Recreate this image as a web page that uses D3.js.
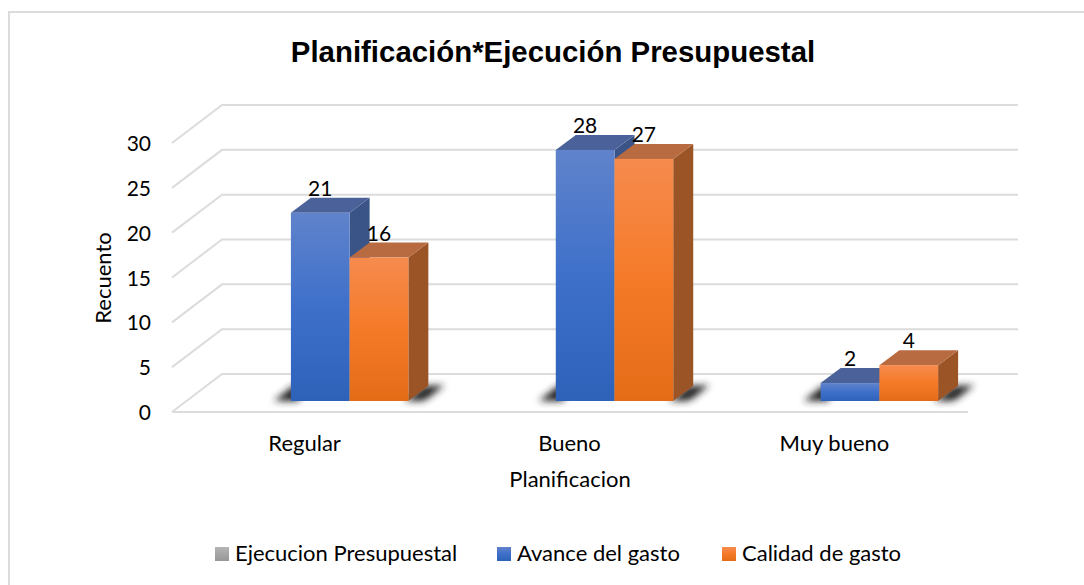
<!DOCTYPE html>
<html>
<head>
<meta charset="UTF-8">
<style>
html, body { margin:0; padding:0; background:#fff; }
svg { display:block; }
text { font-family:"Lato", sans-serif; fill:#000; }
.grid { stroke:#dcdcdc; stroke-width:2; fill:none; }
.tick-label { font-size:21px; }
.cat-label { font-size:22px; }
.axis-title { font-size:22px; }
.title { font-family:"Liberation Sans", sans-serif; font-size:29.4px; font-weight:bold; }
.legend-label { font-size:22px; }
</style>
</head>
<body>
<svg width="1084" height="585"></svg>
<script src="https://d3js.org/d3.v7.min.js"></script>
<script>
var categories = ["Regular", "Bueno", "Muy bueno"];
var seriesNames = ["Avance del gasto", "Calidad de gasto"];
var avance = [21, 28, 2];
var calidad = [16, 27, 4];
var yTicks = [0, 5, 10, 15, 20, 25, 30];

var svg = d3.select("svg");
var defs = svg.append("defs");

// the floor is a parallelogram, back edge is this far from the front edge
var floorDx = 50, floorDy = -38;
var barDx = 20, barDy = -15;
var frontY = 412;

var y = d3.scaleLinear().domain([0, 30]).range([frontY, frontY - 269]);
var x0 = d3.scaleBand().domain(categories).range([217, 1012]).paddingInner(0.5566).paddingOuter(0.279);
var x1 = d3.scaleBand().domain(seriesNames).range([0, x0.bandwidth()]);

function gradient(id, stops) {
  var g = defs.append("linearGradient").attr("id", id)
    .attr("x1", 0).attr("y1", 0).attr("x2", 0).attr("y2", 1);
  stops.forEach(function(s) {
    g.append("stop").attr("offset", s[0]).attr("stop-color", s[1]);
  });
}
gradient("blueGrad", [[0, "#6083cb"], [0.5, "#3e70ca"], [1, "#2e62b9"]]);
gradient("orangeGrad", [[0, "#f68b4e"], [0.5, "#f57a28"], [1, "#e46c17"]]);
gradient("greyGrad", [[0, "#b5b5b5"], [0.5, "#a5a5a5"], [1, "#979797"]]);
defs.append("filter").attr("id", "blur")
  .attr("x", "-30%").attr("y", "-60%").attr("width", "160%").attr("height", "220%")
  .append("feGaussianBlur").attr("stdDeviation", 3.5);

// chart frame: only left and top edges fall inside the crop
svg.append("path").attr("fill", "none").attr("stroke", "#dcdcdc").attr("stroke-width", 2)
  .attr("d", "M9,585V12H1084");

svg.append("text").attr("class", "title")
  .attr("x", 553).attr("y", 62).attr("text-anchor", "middle")
  .text("Planificación*Ejecución Presupuestal");

// gridlines, back wall and side wall
var grid = svg.append("g");
yTicks.forEach(function(t) {
  var py = y(t);
  grid.append("path").attr("class", "grid")
    .attr("d", d3.line()([[172, py], [172 + floorDx, py + floorDy], [1018, py + floorDy]]));
});
grid.append("line").attr("class", "grid")
  .attr("x1", 172).attr("y1", y(0)).attr("x2", 968).attr("y2", y(0));

svg.append("g").selectAll("text").data(yTicks).enter().append("text")
  .attr("class", "tick-label")
  .attr("x", 151).attr("y", function(d) { return y(d) + 8; })
  .attr("text-anchor", "end")
  .text(function(d) { return d; });

svg.append("g").selectAll("text").data(categories).enter().append("text")
  .attr("class", "cat-label")
  .attr("x", function(d) { return x0(d) + x0.bandwidth() / 2 - 45; }).attr("y", 451)
  .attr("text-anchor", "middle")
  .text(function(d) { return d; });

svg.append("text").attr("class", "axis-title")
  .attr("transform", "translate(111,278) rotate(-90)")
  .attr("text-anchor", "middle").text("Recuento");
svg.append("text").attr("class", "axis-title")
  .attr("x", 570).attr("y", 487).attr("text-anchor", "middle").text("Planificacion");

// bars
var bars = [];
categories.forEach(function(c, i) {
  bars.push({ cat: c, name: seriesNames[0], value: avance[i], fill: "url(#blueGrad)", top: "#4a6299", side: "#3a5488" });
  bars.push({ cat: c, name: seriesNames[1], value: calidad[i], fill: "url(#orangeGrad)", top: "#b86a40", side: "#9a5426" });
});

var base = y(0) - 11;

function poly(pts) { return d3.line()(pts) + "Z"; }

// shadows first so they sit under every bar
var shadow = svg.append("g").attr("filter", "url(#blur)");
categories.forEach(function(c) {
  var left = x0(c), right = left + x0.bandwidth();
  shadow.append("path").attr("fill", "#222")
    .attr("d", poly([[left - 17, base], [left + 2, base - 15], [left + 8, base - 15], [left + 8, base], [left, base]]));
  shadow.append("path").attr("fill", "#222")
    .attr("d", poly([[right - 4, base], [right + barDx - 4, base + barDy], [right + barDx + 16, base + barDy - 1], [right + barDx, base - 3], [right + 14, base]]));
});

var g = svg.append("g");
bars.forEach(function(b) {
  var bx = x0(b.cat) + x1(b.name), w = x1.bandwidth();
  var h = y(0) - y(b.value), ty = base - h;
  g.append("path").attr("fill", b.side)
    .attr("d", poly([[bx + w, ty], [bx + w + barDx, ty + barDy], [bx + w + barDx, base + barDy], [bx + w, base]]));
  g.append("path").attr("fill", b.top)
    .attr("d", poly([[bx, ty], [bx + barDx, ty + barDy], [bx + w + barDx, ty + barDy], [bx + w, ty]]));
});
bars.forEach(function(b) {
  var bx = x0(b.cat) + x1(b.name), w = x1.bandwidth();
  var h = y(0) - y(b.value), ty = base - h;
  g.append("rect").attr("x", bx).attr("y", ty).attr("width", w).attr("height", h).attr("fill", b.fill);
});
bars.forEach(function(b) {
  var bx = x0(b.cat) + x1(b.name), w = x1.bandwidth();
  var h = y(0) - y(b.value), ty = base - h;
  g.append("text").attr("class", "tick-label")
    .attr("x", bx + w / 2).attr("y", ty + barDy - 2)
    .attr("text-anchor", "middle").text(b.value);
});

// legend
var legendItems = [
  { label: "Ejecucion Presupuestal", x: 215, fill: "url(#greyGrad)" },
  { label: seriesNames[0], x: 497, fill: "url(#blueGrad)" },
  { label: seriesNames[1], x: 722, fill: "url(#orangeGrad)" }
];
var legend = svg.append("g");
legendItems.forEach(function(d) {
  legend.append("rect").attr("x", d.x).attr("y", 547).attr("width", 14).attr("height", 14).attr("fill", d.fill);
  legend.append("text").attr("class", "legend-label").attr("x", d.x + 20).attr("y", 561).text(d.label);
});
</script>
</body>
</html>
